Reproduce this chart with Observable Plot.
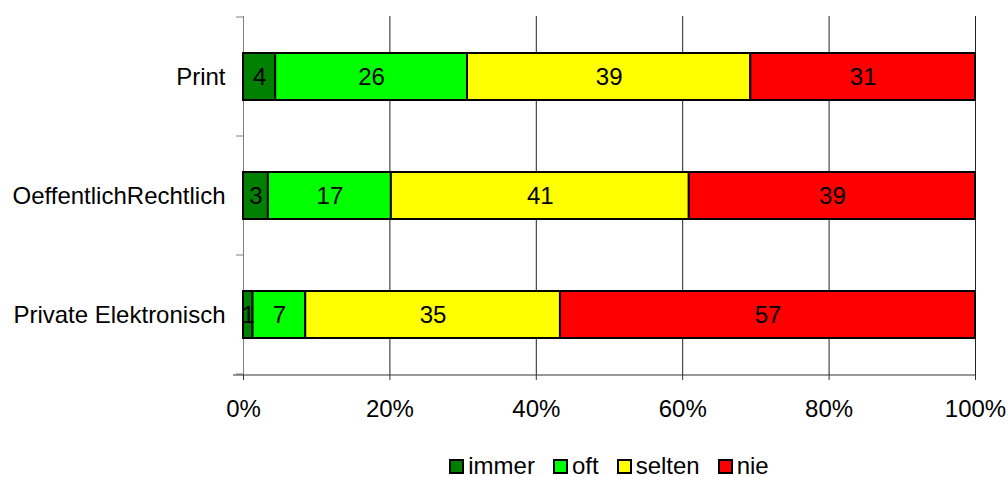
<!DOCTYPE html>
<html>
<head>
<meta charset="utf-8">
<script src="https://cdn.jsdelivr.net/npm/d3@7"></script>
<script src="https://cdn.jsdelivr.net/npm/@observablehq/plot@0.6"></script>
<style>
  body { margin: 0; background: white; font-family: "Liberation Sans", Arial, sans-serif; overflow: hidden; }
  #chart svg { display: block; }
  #legend { width: 1008px; box-sizing: border-box; padding-left: 243px; padding-right: 33px; margin-top: 16px;
            display: flex; justify-content: center; align-items: center; font-size: 24px; color: black; line-height: 20px; height: 20px; }
  .item { display: flex; align-items: center; margin: 0 9px; }
  .sw { width: 11px; height: 11px; border: 2px solid black; margin-right: 4px; }
</style>
</head>
<body>
<div id="chart"></div>
<div id="legend"></div>
<script>
const categories = ["Print", "OeffentlichRechtlich", "Private Elektronisch"];
const series = ["immer", "oft", "selten", "nie"];
const colors = ["#008000", "#00FF00", "#FFFF00", "#FF0000"];
const immer  = [4.4, 3.4, 1.3];
const oft    = [26.2, 16.8, 7.2];
const selten = [38.7, 40.7, 34.8];
const nie    = [30.7, 39.1, 56.7];
const xTicks = [0, 0.2, 0.4, 0.6, 0.8, 1];

const seriesValues = {immer, oft, selten, nie};
const data = [];
categories.forEach((c, i) => {
  series.forEach(s => data.push({category: c, series: s, value: seriesValues[s][i]}));
});

const stack = {x: "value", y: "category", z: "series", order: series, offset: "normalize"};

function boundaryTicks(index, scales, values, dims) {
  const g = d3.create("svg:g");
  const y = scales.y;
  const bw = typeof y.bandwidth === "number" ? y.bandwidth
           : (categories.length > 1 ? y(categories[1]) - y(categories[0]) : dims.height - dims.marginTop - dims.marginBottom);
  const x0 = scales.x(0);
  const bounds = categories.map(c => y(c)).concat([y(categories[categories.length - 1]) + bw]);
  bounds.forEach(b => {
    g.append("line").attr("x1", x0 - 7).attr("x2", x0).attr("y1", b).attr("y2", b)
      .attr("stroke", "#808080").attr("stroke-width", 1);
  });
  const yb = dims.height - dims.marginBottom;
  g.append("line").attr("x1", scales.x(0) - 10).attr("x2", scales.x(1)).attr("y1", yb).attr("y2", yb)
    .attr("stroke", "#333").attr("stroke-width", 1);
  return g.node();
}

const chart = Plot.plot({
  width: 1008,
  height: 440,
  marginLeft: 243,
  marginRight: 33,
  marginTop: 16,
  marginBottom: 65,
  style: {fontSize: "24px", fontFamily: "'Liberation Sans', Arial, sans-serif", color: "black", background: "white"},
  x: {domain: [0, 1]},
  y: {domain: categories, padding: 0},
  color: {domain: series, range: colors},
  marks: [
    Plot.gridX({ticks: xTicks.slice(1), stroke: "#222", strokeOpacity: 1, strokeWidth: 1}),
    Plot.ruleX([0], {stroke: "#808080", strokeWidth: 1}),
    Plot.barX(data, Plot.stackX({...stack, fill: "series", stroke: "black", strokeWidth: 2, insetTop: 36, insetBottom: 36})),
    Plot.text(data, Plot.stackX({...stack, fill: "black", text: d => d3.format(".0f")(d.value), fontSize: 24})),
    boundaryTicks,
    Plot.axisY({tickSize: 0, tickPadding: 18, label: null}),
    Plot.axisX({ticks: xTicks, tickFormat: d3.format(".0%"), tickSize: 5, tickPadding: 19, label: null, stroke: "#333"})
  ]
});
document.getElementById("chart").appendChild(chart);

const legend = document.getElementById("legend");
series.forEach((s, i) => {
  const item = document.createElement("div");
  item.className = "item";
  const sw = document.createElement("div");
  sw.className = "sw";
  sw.style.background = colors[i];
  const t = document.createElement("span");
  t.textContent = s;
  item.appendChild(sw);
  item.appendChild(t);
  legend.appendChild(item);
});
</script>
</body>
</html>
